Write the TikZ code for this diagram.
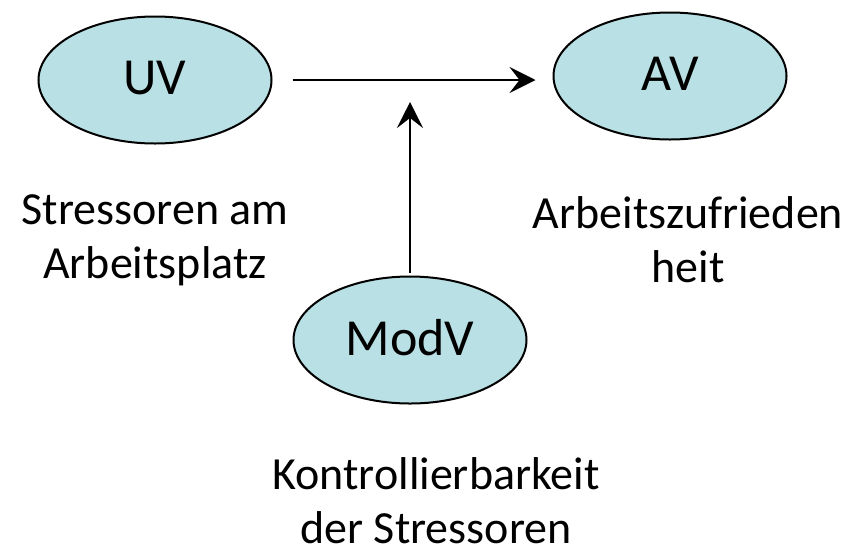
\documentclass[tikz,border=0pt]{standalone}
\usepackage{fontspec}
\setmainfont{Carlito}
\usetikzlibrary{shapes.geometric}
\usetikzlibrary{arrows.meta}
\definecolor{varfill}{RGB}{185,224,228}

\begin{document}
\begin{tikzpicture}[x=1pt,y=-1pt,
  var/.style={ellipse,draw,line width=2pt,fill=varfill,minimum width=233pt,minimum height=127pt,inner sep=0pt,text depth=5pt,font=\fontsize{52}{62}\selectfont},
  lbl/.style={align=center,inner sep=0pt,anchor=base,font=\fontsize{46}{54}\selectfont},
  arr/.style={-{Stealth[length=26pt,width=26pt,inset=10pt]},line width=1.8pt}]
  \useasboundingbox (0,0) rectangle (867,555);
  \node[var] (uv) at (155,80) {UV};
  \node[var] (av) at (670,76) {AV};
  \node[var] (modv) at (410,340) {ModV};
  \coordinate (mid) at (410,102);
  \draw[arr] ([xshift=20pt]uv.east) -- ([xshift=-17pt]uv.east -| av.west);
  \draw[arr] ([yshift=3pt]modv.north) -- (mid);
  \node[lbl] (uvtext) at (155,278) {Stressoren am\\Arbeitsplatz};
  \node[lbl] (avtext) at (688,282) {Arbeitszufrieden\\heit};
  \node[lbl] (modvtext) at (436,543) {Kontrollierbarkeit\\der Stressoren};
\end{tikzpicture}
\end{document}
